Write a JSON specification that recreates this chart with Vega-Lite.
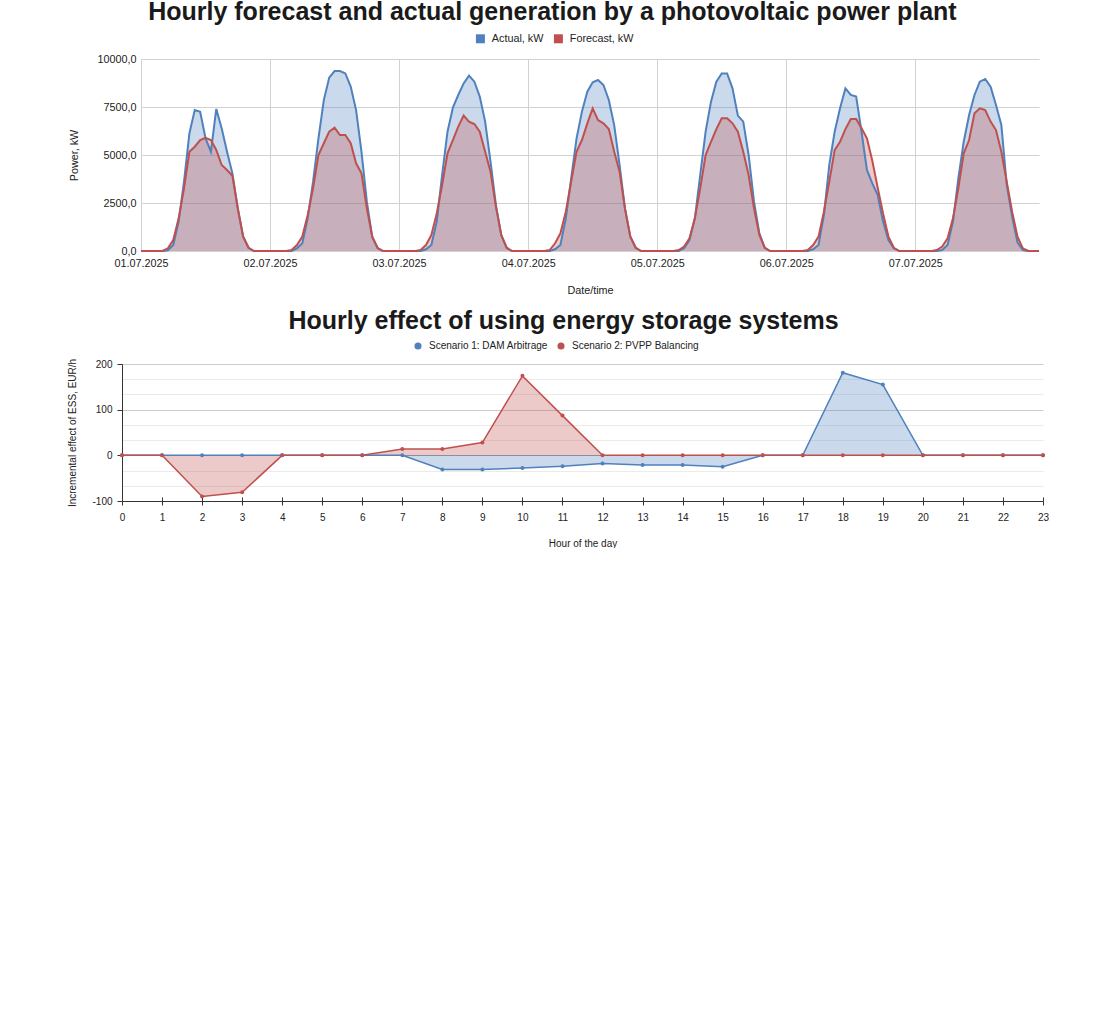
{
  "$schema": "https://vega.github.io/schema/vega-lite/v6.json",
  "padding": {"left": 67, "top": 0, "right": 0, "bottom": 0},
  "spacing": 13,
  "config": {
    "font": "Liberation Sans",
    "view": {"stroke": null},
    "axis": {"labelColor": "#222", "titleColor": "#222", "titleFontWeight": "normal", "labelFlush": false}
  },
  "resolve": {"scale": {"color": "independent"}, "legend": {"color": "independent"}},
  "vconcat": [
    {
      "title": {"text": "Hourly forecast and actual generation by a photovoltaic power plant", "frame": "group", "anchor": "middle", "dx": -28.1, "fontSize": 25, "fontWeight": "bold", "color": "#1a1a1a", "offset": 8},
      "width": 917,
      "height": 192,
      "data": {"values": [
        {"time": "2025-07-01T00:00", "actual": 0, "forecast": 0},
        {"time": "2025-07-01T01:00", "actual": 0, "forecast": 0},
        {"time": "2025-07-01T02:00", "actual": 0, "forecast": 0},
        {"time": "2025-07-01T03:00", "actual": 0, "forecast": 0},
        {"time": "2025-07-01T04:00", "actual": 0, "forecast": 0},
        {"time": "2025-07-01T05:00", "actual": 40, "forecast": 140},
        {"time": "2025-07-01T06:00", "actual": 310, "forecast": 570},
        {"time": "2025-07-01T07:00", "actual": 1530, "forecast": 1700},
        {"time": "2025-07-01T08:00", "actual": 3610, "forecast": 3260},
        {"time": "2025-07-01T09:00", "actual": 6130, "forecast": 5170},
        {"time": "2025-07-01T10:00", "actual": 7340, "forecast": 5430},
        {"time": "2025-07-01T11:00", "actual": 7250, "forecast": 5780},
        {"time": "2025-07-01T12:00", "actual": 5870, "forecast": 5900},
        {"time": "2025-07-01T13:00", "actual": 5170, "forecast": 5780},
        {"time": "2025-07-01T14:00", "actual": 7400, "forecast": 5260},
        {"time": "2025-07-01T15:00", "actual": 6390, "forecast": 4480},
        {"time": "2025-07-01T16:00", "actual": 5170, "forecast": 4220},
        {"time": "2025-07-01T17:00", "actual": 4045, "forecast": 3920},
        {"time": "2025-07-01T18:00", "actual": 2220, "forecast": 2220},
        {"time": "2025-07-01T19:00", "actual": 750, "forecast": 750},
        {"time": "2025-07-01T20:00", "actual": 170, "forecast": 170},
        {"time": "2025-07-01T21:00", "actual": 0, "forecast": 0},
        {"time": "2025-07-01T22:00", "actual": 0, "forecast": 0},
        {"time": "2025-07-01T23:00", "actual": 0, "forecast": 0},
        {"time": "2025-07-02T00:00", "actual": 0, "forecast": 0},
        {"time": "2025-07-02T01:00", "actual": 0, "forecast": 0},
        {"time": "2025-07-02T02:00", "actual": 0, "forecast": 0},
        {"time": "2025-07-02T03:00", "actual": 0, "forecast": 0},
        {"time": "2025-07-02T04:00", "actual": 0, "forecast": 50},
        {"time": "2025-07-02T05:00", "actual": 140, "forecast": 310},
        {"time": "2025-07-02T06:00", "actual": 400, "forecast": 750},
        {"time": "2025-07-02T07:00", "actual": 1700, "forecast": 1870},
        {"time": "2025-07-02T08:00", "actual": 3610, "forecast": 3260},
        {"time": "2025-07-02T09:00", "actual": 5870, "forecast": 5000},
        {"time": "2025-07-02T10:00", "actual": 7860, "forecast": 5610},
        {"time": "2025-07-02T11:00", "actual": 9030, "forecast": 6215},
        {"time": "2025-07-02T12:00", "actual": 9375, "forecast": 6420},
        {"time": "2025-07-02T13:00", "actual": 9375, "forecast": 6040},
        {"time": "2025-07-02T14:00", "actual": 9250, "forecast": 6040},
        {"time": "2025-07-02T15:00", "actual": 8560, "forecast": 5610},
        {"time": "2025-07-02T16:00", "actual": 7340, "forecast": 4570},
        {"time": "2025-07-02T17:00", "actual": 5170, "forecast": 4045},
        {"time": "2025-07-02T18:00", "actual": 2570, "forecast": 2220},
        {"time": "2025-07-02T19:00", "actual": 750, "forecast": 750},
        {"time": "2025-07-02T20:00", "actual": 170, "forecast": 140},
        {"time": "2025-07-02T21:00", "actual": 0, "forecast": 0},
        {"time": "2025-07-02T22:00", "actual": 0, "forecast": 0},
        {"time": "2025-07-02T23:00", "actual": 0, "forecast": 0},
        {"time": "2025-07-03T00:00", "actual": 0, "forecast": 0},
        {"time": "2025-07-03T01:00", "actual": 0, "forecast": 0},
        {"time": "2025-07-03T02:00", "actual": 0, "forecast": 0},
        {"time": "2025-07-03T03:00", "actual": 0, "forecast": 0},
        {"time": "2025-07-03T04:00", "actual": 0, "forecast": 50},
        {"time": "2025-07-03T05:00", "actual": 90, "forecast": 310},
        {"time": "2025-07-03T06:00", "actual": 310, "forecast": 830},
        {"time": "2025-07-03T07:00", "actual": 1530, "forecast": 1960},
        {"time": "2025-07-03T08:00", "actual": 3960, "forecast": 3440},
        {"time": "2025-07-03T09:00", "actual": 6215, "forecast": 5090},
        {"time": "2025-07-03T10:00", "actual": 7465, "forecast": 5780},
        {"time": "2025-07-03T11:00", "actual": 8125, "forecast": 6475},
        {"time": "2025-07-03T12:00", "actual": 8730, "forecast": 7050},
        {"time": "2025-07-03T13:00", "actual": 9130, "forecast": 6740},
        {"time": "2025-07-03T14:00", "actual": 8820, "forecast": 6615},
        {"time": "2025-07-03T15:00", "actual": 8040, "forecast": 6215},
        {"time": "2025-07-03T16:00", "actual": 6740, "forecast": 5170},
        {"time": "2025-07-03T17:00", "actual": 4650, "forecast": 4130},
        {"time": "2025-07-03T18:00", "actual": 2400, "forecast": 2310},
        {"time": "2025-07-03T19:00", "actual": 830, "forecast": 830},
        {"time": "2025-07-03T20:00", "actual": 170, "forecast": 170},
        {"time": "2025-07-03T21:00", "actual": 0, "forecast": 0},
        {"time": "2025-07-03T22:00", "actual": 0, "forecast": 0},
        {"time": "2025-07-03T23:00", "actual": 0, "forecast": 0},
        {"time": "2025-07-04T00:00", "actual": 0, "forecast": 0},
        {"time": "2025-07-04T01:00", "actual": 0, "forecast": 0},
        {"time": "2025-07-04T02:00", "actual": 0, "forecast": 0},
        {"time": "2025-07-04T03:00", "actual": 0, "forecast": 0},
        {"time": "2025-07-04T04:00", "actual": 0, "forecast": 50},
        {"time": "2025-07-04T05:00", "actual": 90, "forecast": 400},
        {"time": "2025-07-04T06:00", "actual": 310, "forecast": 920},
        {"time": "2025-07-04T07:00", "actual": 1700, "forecast": 2050},
        {"time": "2025-07-04T08:00", "actual": 3780, "forecast": 3610},
        {"time": "2025-07-04T09:00", "actual": 5870, "forecast": 5170},
        {"time": "2025-07-04T10:00", "actual": 7260, "forecast": 5780},
        {"time": "2025-07-04T11:00", "actual": 8300, "forecast": 6650},
        {"time": "2025-07-04T12:00", "actual": 8785, "forecast": 7430},
        {"time": "2025-07-04T13:00", "actual": 8905, "forecast": 6820},
        {"time": "2025-07-04T14:00", "actual": 8645, "forecast": 6650},
        {"time": "2025-07-04T15:00", "actual": 7865, "forecast": 6350},
        {"time": "2025-07-04T16:00", "actual": 6560, "forecast": 5170},
        {"time": "2025-07-04T17:00", "actual": 4480, "forecast": 4130},
        {"time": "2025-07-04T18:00", "actual": 2220, "forecast": 2220},
        {"time": "2025-07-04T19:00", "actual": 750, "forecast": 750},
        {"time": "2025-07-04T20:00", "actual": 170, "forecast": 170},
        {"time": "2025-07-04T21:00", "actual": 0, "forecast": 0},
        {"time": "2025-07-04T22:00", "actual": 0, "forecast": 0},
        {"time": "2025-07-04T23:00", "actual": 0, "forecast": 0},
        {"time": "2025-07-05T00:00", "actual": 0, "forecast": 0},
        {"time": "2025-07-05T01:00", "actual": 0, "forecast": 0},
        {"time": "2025-07-05T02:00", "actual": 0, "forecast": 0},
        {"time": "2025-07-05T03:00", "actual": 0, "forecast": 0},
        {"time": "2025-07-05T04:00", "actual": 0, "forecast": 50},
        {"time": "2025-07-05T05:00", "actual": 140, "forecast": 230},
        {"time": "2025-07-05T06:00", "actual": 570, "forecast": 660},
        {"time": "2025-07-05T07:00", "actual": 1700, "forecast": 1700},
        {"time": "2025-07-05T08:00", "actual": 3960, "forecast": 3260},
        {"time": "2025-07-05T09:00", "actual": 6215, "forecast": 5000},
        {"time": "2025-07-05T10:00", "actual": 7780, "forecast": 5690},
        {"time": "2025-07-05T11:00", "actual": 8820, "forecast": 6350},
        {"time": "2025-07-05T12:00", "actual": 9250, "forecast": 6910},
        {"time": "2025-07-05T13:00", "actual": 9250, "forecast": 6910},
        {"time": "2025-07-05T14:00", "actual": 8470, "forecast": 6650},
        {"time": "2025-07-05T15:00", "actual": 7050, "forecast": 6215},
        {"time": "2025-07-05T16:00", "actual": 6740, "forecast": 5170},
        {"time": "2025-07-05T17:00", "actual": 5000, "forecast": 3960},
        {"time": "2025-07-05T18:00", "actual": 2570, "forecast": 2220},
        {"time": "2025-07-05T19:00", "actual": 920, "forecast": 830},
        {"time": "2025-07-05T20:00", "actual": 170, "forecast": 170},
        {"time": "2025-07-05T21:00", "actual": 0, "forecast": 0},
        {"time": "2025-07-05T22:00", "actual": 0, "forecast": 0},
        {"time": "2025-07-05T23:00", "actual": 0, "forecast": 0},
        {"time": "2025-07-06T00:00", "actual": 0, "forecast": 0},
        {"time": "2025-07-06T01:00", "actual": 0, "forecast": 0},
        {"time": "2025-07-06T02:00", "actual": 0, "forecast": 0},
        {"time": "2025-07-06T03:00", "actual": 0, "forecast": 0},
        {"time": "2025-07-06T04:00", "actual": 0, "forecast": 50},
        {"time": "2025-07-06T05:00", "actual": 90, "forecast": 310},
        {"time": "2025-07-06T06:00", "actual": 310, "forecast": 750},
        {"time": "2025-07-06T07:00", "actual": 1870, "forecast": 2050},
        {"time": "2025-07-06T08:00", "actual": 4480, "forecast": 3610},
        {"time": "2025-07-06T09:00", "actual": 6215, "forecast": 5260},
        {"time": "2025-07-06T10:00", "actual": 7430, "forecast": 5690},
        {"time": "2025-07-06T11:00", "actual": 8470, "forecast": 6350},
        {"time": "2025-07-06T12:00", "actual": 8125, "forecast": 6875},
        {"time": "2025-07-06T13:00", "actual": 8040, "forecast": 6875},
        {"time": "2025-07-06T14:00", "actual": 6200, "forecast": 6390},
        {"time": "2025-07-06T15:00", "actual": 4220, "forecast": 5870},
        {"time": "2025-07-06T16:00", "actual": 3520, "forecast": 4700},
        {"time": "2025-07-06T17:00", "actual": 2920, "forecast": 3300},
        {"time": "2025-07-06T18:00", "actual": 1530, "forecast": 1950},
        {"time": "2025-07-06T19:00", "actual": 570, "forecast": 750},
        {"time": "2025-07-06T20:00", "actual": 140, "forecast": 170},
        {"time": "2025-07-06T21:00", "actual": 0, "forecast": 0},
        {"time": "2025-07-06T22:00", "actual": 0, "forecast": 0},
        {"time": "2025-07-06T23:00", "actual": 0, "forecast": 0},
        {"time": "2025-07-07T00:00", "actual": 0, "forecast": 0},
        {"time": "2025-07-07T01:00", "actual": 0, "forecast": 0},
        {"time": "2025-07-07T02:00", "actual": 0, "forecast": 0},
        {"time": "2025-07-07T03:00", "actual": 0, "forecast": 0},
        {"time": "2025-07-07T04:00", "actual": 0, "forecast": 50},
        {"time": "2025-07-07T05:00", "actual": 50, "forecast": 230},
        {"time": "2025-07-07T06:00", "actual": 310, "forecast": 660},
        {"time": "2025-07-07T07:00", "actual": 1530, "forecast": 1700},
        {"time": "2025-07-07T08:00", "actual": 3780, "forecast": 3260},
        {"time": "2025-07-07T09:00", "actual": 5690, "forecast": 5090},
        {"time": "2025-07-07T10:00", "actual": 7080, "forecast": 5780},
        {"time": "2025-07-07T11:00", "actual": 8125, "forecast": 7170},
        {"time": "2025-07-07T12:00", "actual": 8820, "forecast": 7430},
        {"time": "2025-07-07T13:00", "actual": 8960, "forecast": 7340},
        {"time": "2025-07-07T14:00", "actual": 8560, "forecast": 6740},
        {"time": "2025-07-07T15:00", "actual": 7600, "forecast": 6300},
        {"time": "2025-07-07T16:00", "actual": 6560, "forecast": 5170},
        {"time": "2025-07-07T17:00", "actual": 3450, "forecast": 3610},
        {"time": "2025-07-07T18:00", "actual": 1800, "forecast": 2050},
        {"time": "2025-07-07T19:00", "actual": 450, "forecast": 750},
        {"time": "2025-07-07T20:00", "actual": 50, "forecast": 140},
        {"time": "2025-07-07T21:00", "actual": 0, "forecast": 0},
        {"time": "2025-07-07T22:00", "actual": 0, "forecast": 0},
        {"time": "2025-07-07T23:00", "actual": 0, "forecast": 0}
      ]},
      "transform": [{"fold": ["actual", "forecast"], "as": ["series", "kW"]}],
      "encoding": {
        "x": {
          "field": "time", "type": "temporal",
          "scale": {"domain": [{"year": 2025, "month": 7, "date": 1, "hours": 0}, {"year": 2025, "month": 7, "date": 7, "hours": 23}], "range": [19, 917], "nice": false},
          "axis": {"title": "Date/time", "format": "%d.%m.%Y", "tickCount": {"interval": "day", "step": 1}, "grid": true, "gridColor": "#d2d2d2", "domain": false, "ticks": false, "labelPadding": 6, "titlePadding": 17, "labelFontSize": 10.8, "titleFontSize": 10.8, "labelOverlap": false}
        },
        "y": {
          "field": "kW", "type": "quantitative", "stack": null,
          "scale": {"domain": [0, 10000], "nice": false},
          "axis": {"title": "Power, kW", "offset": -19, "values": [0, 2500, 5000, 7500, 10000], "labelExpr": "replace(format(datum.value, '.1f'), '.', ',')", "grid": true, "gridColor": "#d2d2d2", "domain": false, "ticks": false, "labelPadding": 5, "titlePadding": 17, "labelFontSize": 10.8, "titleFontSize": 10.8}
        },
        "color": {
          "field": "series", "type": "nominal",
          "scale": {"domain": ["actual", "forecast"], "range": ["#4f81bd", "#c0504d"]},
          "legend": {"orient": "none", "legendX": 353, "legendY": -26, "direction": "horizontal", "title": null, "symbolType": "square", "symbolSize": 81, "symbolOpacity": 1, "symbolStrokeWidth": 0, "labelFontSize": 10.8, "labelColor": "#222", "labelOffset": 6, "columnPadding": 9, "padding": 0, "labelExpr": "datum.label == 'actual' ? 'Actual, kW' : 'Forecast, kW'"}
        }
      },
      "layer": [
        {"mark": {"type": "area", "opacity": 0.3}},
        {"mark": {"type": "line", "strokeWidth": 2}}
      ]
    },
    {
      "title": {"text": "Hourly effect of using energy storage systems", "frame": "group", "anchor": "middle", "dx": -19, "fontSize": 25, "fontWeight": "bold", "color": "#1a1a1a", "offset": 7},
      "width": 921,
      "height": 137,
      "data": {"values": [
        {"hour": 0, "s1": 0, "s2": 0},
        {"hour": 1, "s1": 0, "s2": 0},
        {"hour": 2, "s1": 0, "s2": -90},
        {"hour": 3, "s1": 0, "s2": -81},
        {"hour": 4, "s1": 0, "s2": 0},
        {"hour": 5, "s1": 0, "s2": 0},
        {"hour": 6, "s1": 0, "s2": 0},
        {"hour": 7, "s1": 0, "s2": 14},
        {"hour": 8, "s1": -31, "s2": 14},
        {"hour": 9, "s1": -31, "s2": 28},
        {"hour": 10, "s1": -28, "s2": 174},
        {"hour": 11, "s1": -24, "s2": 87},
        {"hour": 12, "s1": -18, "s2": 0},
        {"hour": 13, "s1": -21, "s2": 0},
        {"hour": 14, "s1": -21, "s2": 0},
        {"hour": 15, "s1": -25, "s2": 0},
        {"hour": 16, "s1": 0, "s2": 0},
        {"hour": 17, "s1": 0, "s2": 0},
        {"hour": 18, "s1": 181, "s2": 0},
        {"hour": 19, "s1": 155, "s2": 0},
        {"hour": 20, "s1": 0, "s2": 0},
        {"hour": 21, "s1": 0, "s2": 0},
        {"hour": 22, "s1": 0, "s2": 0},
        {"hour": 23, "s1": 0, "s2": 0}
      ]},
      "transform": [{"fold": ["s1", "s2"], "as": ["scenario", "eur"]}],
      "encoding": {
        "y": {
          "field": "eur", "type": "quantitative", "stack": null,
          "scale": {"domain": [-100, 200], "nice": false},
          "axis": {
            "title": "Incremental effect of ESS, EUR/h",
            "values": [-100, -66.6667, -33.3333, 0, 33.3333, 66.6667, 100, 133.3333, 166.6667, 200],
            "labelExpr": "abs(datum.value % 100) < 1 ? '' + round(datum.value) : ''",
            "grid": true,
            "gridColor": {"condition": [{"test": "abs(datum.value) < 1", "value": "#9a9a9a"}, {"test": "abs(datum.value % 100) < 1", "value": "#cccccc"}], "value": "#ebebeb"},
            "domain": true, "domainColor": "#333",
            "ticks": true, "tickColor": "#333", "tickSize": 5,
            "tickOpacity": {"condition": {"test": "abs(datum.value % 100) < 1", "value": 1}, "value": 0},
            "labelPadding": 5, "titlePadding": 14, "labelFontSize": 10, "titleFontSize": 10
          }
        },
        "color": {
          "field": "scenario", "type": "nominal",
          "scale": {"domain": ["s1", "s2"], "range": ["#4f81bd", "#c0504d"]},
          "legend": {"orient": "none", "legendX": 291, "legendY": -23, "direction": "horizontal", "title": null, "symbolType": "circle", "symbolSize": 50, "symbolOpacity": 1, "symbolStrokeWidth": 0, "labelFontSize": 10, "labelColor": "#222", "labelOffset": 6, "columnPadding": 8, "padding": 0, "labelExpr": "datum.label == 's1' ? 'Scenario 1: DAM Arbitrage' : 'Scenario 2: PVPP Balancing'"}
        }
      },
      "resolve": {"axis": {"x": "independent"}},
      "layer": [
        {
          "mark": {"type": "area", "opacity": 0.3},
          "encoding": {
            "x": {
              "field": "hour", "type": "quantitative",
              "scale": {"domain": [0, 23], "nice": false, "zero": false},
              "axis": {"orient": "bottom", "title": "Hour of the day", "values": [0, 1, 2, 3, 4, 5, 6, 7, 8, 9, 10, 11, 12, 13, 14, 15, 16, 17, 18, 19, 20, 21, 22, 23], "grid": false, "domain": true, "domainColor": "#333", "ticks": true, "tickColor": "#333", "tickSize": 4, "labelPadding": 7, "titlePadding": 16, "labelFontSize": 10, "titleFontSize": 10}
            }
          }
        },
        {
          "mark": {"type": "line", "strokeWidth": 1.5},
          "encoding": {
            "x": {"field": "hour", "type": "quantitative", "axis": null}
          }
        },
        {
          "mark": {"type": "point", "filled": true, "size": 16, "opacity": 1},
          "encoding": {
            "x": {
              "field": "hour", "type": "quantitative",
              "axis": {"orient": "bottom", "title": null, "labels": false, "values": [0, 1, 2, 3, 4, 5, 6, 7, 8, 9, 10, 11, 12, 13, 14, 15, 16, 17, 18, 19, 20, 21, 22, 23], "grid": false, "domain": false, "ticks": true, "tickColor": "#333", "tickSize": -4}
            }
          }
        }
      ]
    }
  ]
}
